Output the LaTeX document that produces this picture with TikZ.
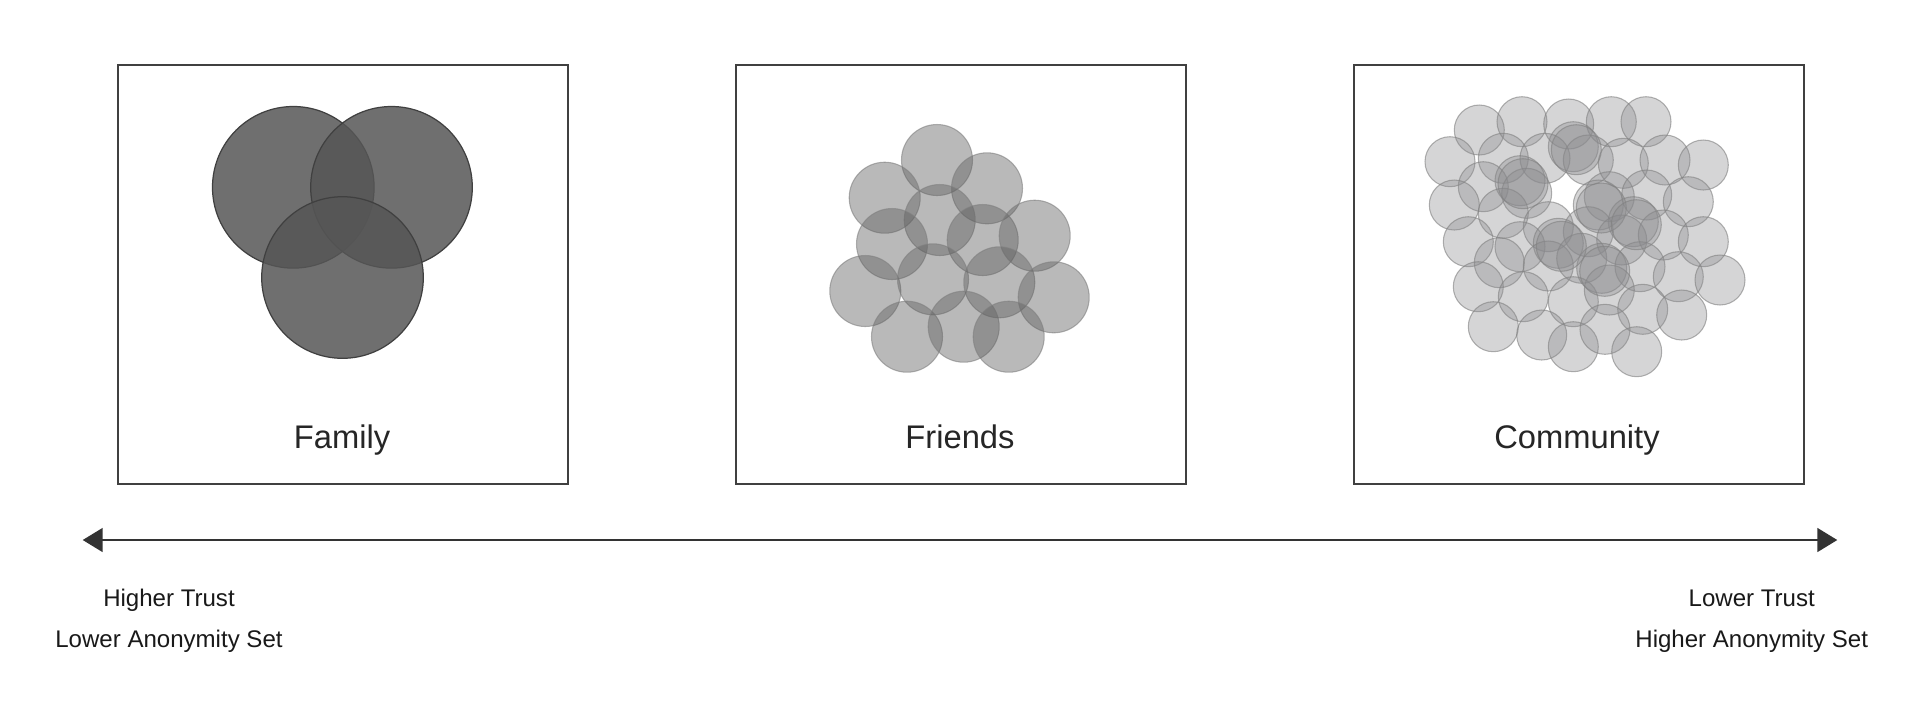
\documentclass[tikz,border=0pt]{standalone}
\usepackage{fontspec}
\setmainfont{Liberation Sans}
\usetikzlibrary{arrows.meta}
\begin{document}
\begin{tikzpicture}[x=0.01cm,y=-0.01cm,
  panel/.style={draw=black!75,line width=0.6pt,inner sep=0pt,minimum width=4.5cm,minimum height=4.19cm,anchor=north west},
  biglabel/.style={anchor=base,inner sep=0pt,text=black!85,font=\fontsize{9.3}{11}\selectfont},
  smalllabel/.style={anchor=base,inner sep=0pt,text=black!90,font=\fontsize{6.84}{8}\selectfont},
  famc/.style={draw=black!75,line width=0.35pt,fill={rgb,255:red,86;green,86;blue,86},fill opacity=0.85},
  frc/.style={draw=black!50,draw opacity=0.6,line width=0.3pt,fill={rgb,255:red,96;green,96;blue,96},fill opacity=0.44},
  comc/.style={draw=black!50,draw opacity=0.6,line width=0.3pt,fill={rgb,255:red,139;green,139;blue,142},fill opacity=0.36},
  axis/.style={draw=black!80,line width=0.6pt,{Triangle[length=5.7pt,width=6.8pt]}-{Triangle[length=5.7pt,width=6.8pt]}}]
\useasboundingbox (0,0) rectangle (1920,717);
\fill[white] (0,0) rectangle (1920,717);

% panels
\node[panel] (famBox) at (117,64) {};
\node[panel] (friBox) at (735,64) {};
\node[panel] (comBox) at (1353,64) {};

% family circles
\foreach \cx/\cy in {293.3/187.3, 391.5/187.3, 342.5/277.5}
  \path[famc] (\cx,\cy) circle[radius=80.8];

% friends circles
\foreach \cx/\cy in {937/160, 884.7/197.7, 987/188.3, 939.7/220, 892/244, 982.7/240, 1034.7/235.7,
  865.3/291, 933/279.3, 999.3/282.3, 1053.7/297.3, 907/336.7, 963.7/326.7, 1008.7/336.7}
  \path[frc] (\cx,\cy) circle[radius=35.5];

% community circles
\foreach \cx/\cy in {1479.3/130, 1522/121.7, 1568.7/124, 1611.3/121.7, 1646/121.7, 1573.3/146.7,
  1450/161.7, 1503.3/158.3, 1545/158.3, 1588.3/160, 1623.3/163.3, 1665/160, 1703.3/165,
  1520/180.7, 1483.3/186.7, 1526.7/193.3, 1454.3/205, 1503.3/213.3, 1609.3/196.7, 1598.3/205,
  1646.7/195, 1688.3/201.7, 1633.3/221.7, 1548.3/226.7, 1588.3/231.7, 1468.3/241.7, 1520/246.7,
  1558.3/243.3, 1621.7/240, 1663.3/235, 1703.3/241.7, 1499.3/262.7, 1548.3/266, 1581.7/258.3,
  1601.7/268.3, 1640/266.7, 1678.3/276.7, 1720/280, 1478.3/286.7, 1523.3/296.7, 1573.3/301.7,
  1609.3/290, 1642.7/309.3, 1681.7/315, 1493.3/326.7, 1541.7/335, 1573.3/346.7, 1605/329.3,
  1636.7/351.7}
  \path[comc] (\cx,\cy) circle[radius=25];
% darker (doubled) community circles
\foreach \cx/\cy in {1573.3/146.7, 1520/180.7, 1598.3/205, 1633.3/221.7, 1558.3/243.3, 1601.7/268.3}
  \path[comc] (\cx+3,\cy+3) circle[radius=25];

% panel labels
\node[biglabel] (famLbl) at (342,448.3) {Family};
\node[biglabel] (friLbl) at (960,448.3) {Friends};
\node[biglabel] (comLbl) at (1577,448.3) {Community};

% axis
\coordinate (axL) at (82.7,540);
\coordinate (axR) at (1837.3,540);
\draw[axis] (axL) -- (axR);

\node[smalllabel] (hiTrust) at (169,606.7) {Higher Trust};
\node[smalllabel] (loAnon) at (169,647.7) {Lower Anonymity Set};
\node[smalllabel] (loTrust) at (1751.7,606.7) {Lower Trust};
\node[smalllabel] (hiAnon) at (1751.7,647.7) {Higher Anonymity Set};
\end{tikzpicture}
\end{document}
